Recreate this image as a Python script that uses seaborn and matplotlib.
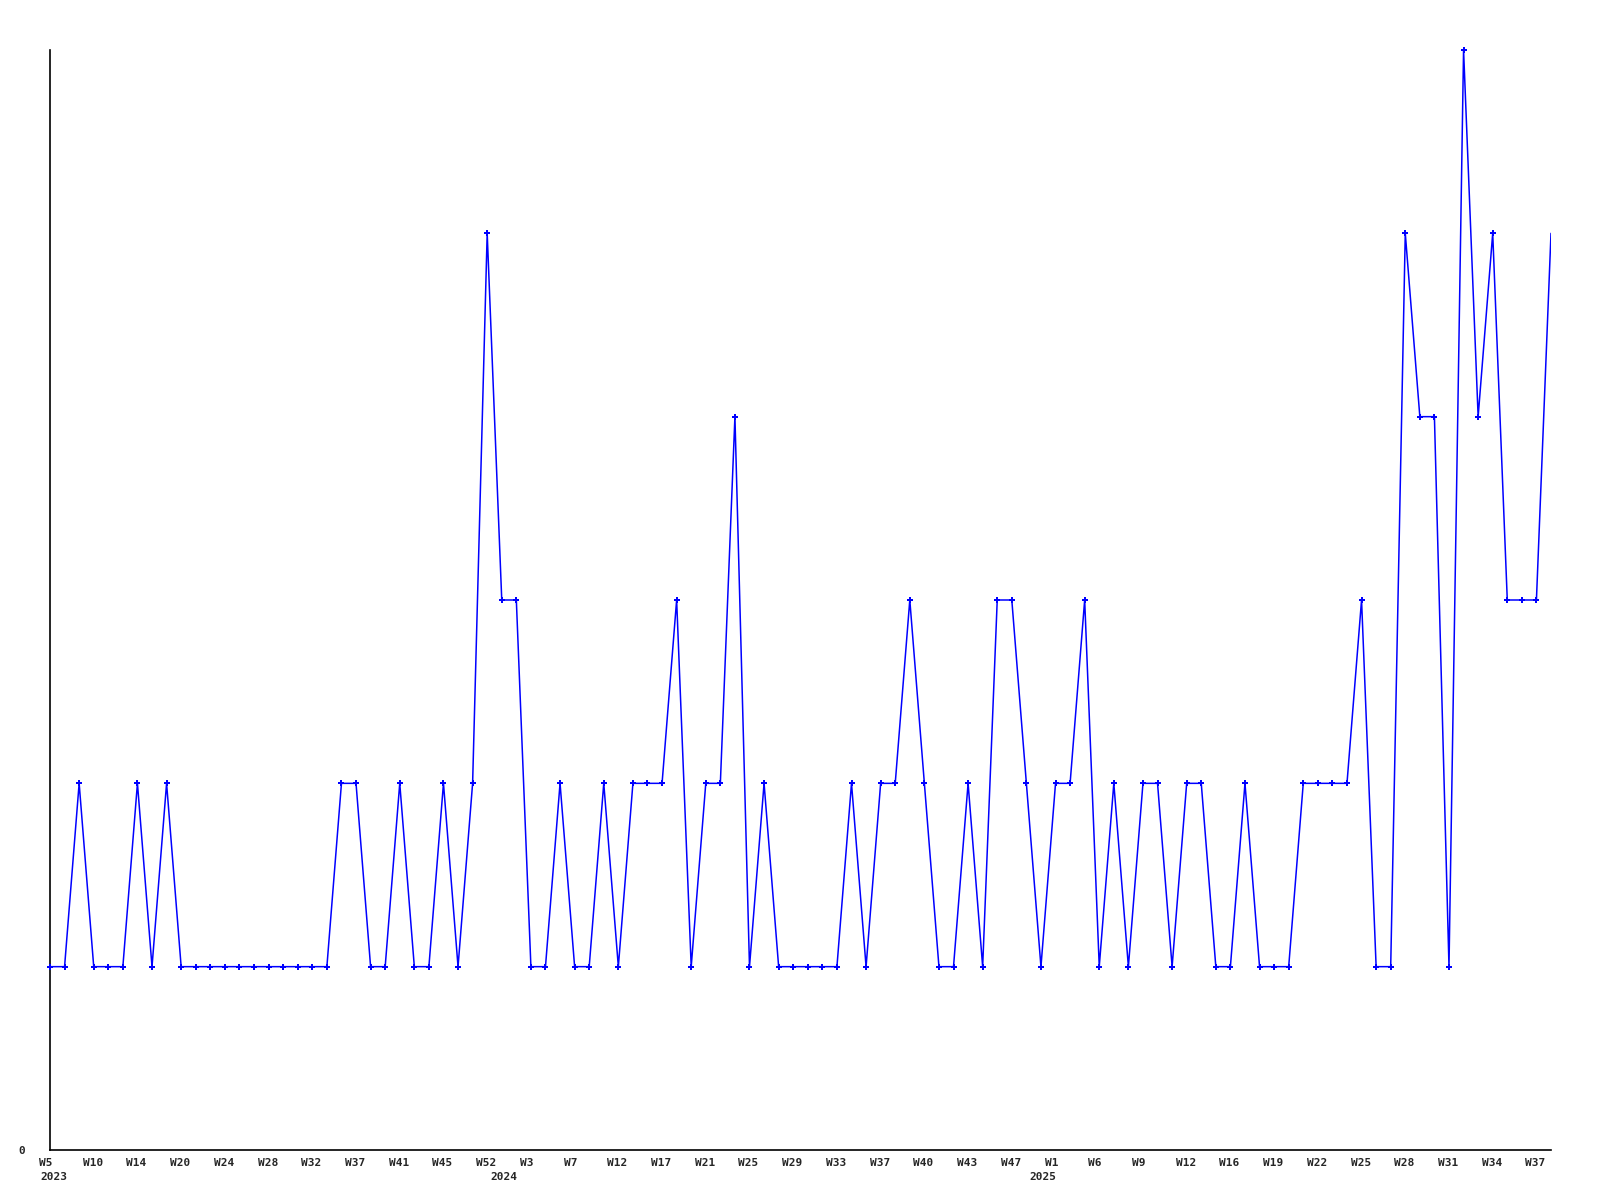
import matplotlib
matplotlib.use("Agg")
import matplotlib.pyplot as plt
import matplotlib.transforms as mtransforms
import seaborn as sns
import pandas as pd

# weekly counts, one per week
counts = [1, 1, 2, 1, 1, 1, 2, 1, 2, 1,
          1, 1, 1, 1, 1, 1, 1, 1, 1, 1,
          2, 2, 1, 1, 2, 1, 1, 2, 1, 2,
          5, 3, 3, 1, 1, 2, 1, 1, 2, 1,
          2, 2, 2, 3, 1, 2, 2, 4, 1, 2,
          1, 1, 1, 1, 1, 2, 1, 2, 2, 3,
          2, 1, 1, 2, 1, 3, 3, 2, 1, 2,
          2, 3, 1, 2, 1, 2, 2, 1, 2, 2,
          1, 1, 2, 1, 1, 1, 2, 2, 2, 2,
          3, 1, 1, 5, 4, 4, 1, 6, 4, 5,
          3, 3, 3, 5]

week_labels = ["W5", "W10", "W14", "W20", "W24", "W28", "W32", "W37", "W41", "W45", "W52",
               "W3", "W7", "W12", "W17", "W21", "W25", "W29", "W33", "W37", "W40", "W43", "W47",
               "W1", "W6", "W9", "W12", "W16", "W19", "W22", "W25", "W28", "W31", "W34", "W37"]
tick_step = 3
year_labels = ["2023", "2024", "2025"]
year_pos = [0, 31, 68]

df = pd.DataFrame({"idx": list(range(len(counts))), "count": counts})

sns.set_theme(style="white")
plt.rcParams['font.family'] = ['DejaVu Sans Mono', 'DejaVu Sans']

fig = plt.figure(figsize=(16, 12), dpi=100)
ax = fig.add_axes([50/1600, 1 - 1150/1200, (1551-50)/1600, (1150-50)/1200])

sns.lineplot(data=df, x="idx", y="count", ax=ax, color="#0000ff", linewidth=1.1,
             estimator=None)
# markers on all but the last point (the reference shows none there)
sns.scatterplot(data=df.iloc[:-1], x="idx", y="count", ax=ax, color="#0000ff",
                marker="P", s=22, linewidth=0, clip_on=False, zorder=3)

ax.set_xlim(0, len(counts) - 1)
ax.set_ylim(0, 6)
ax.set_xlabel("")
ax.set_ylabel("")

for s in ["top", "right"]:
    ax.spines[s].set_visible(False)
for s in ["left", "bottom"]:
    ax.spines[s].set_color("black")
    ax.spines[s].set_linewidth(1.2)

ax.set_yticks([0])
ax.set_yticklabels(["0"], fontsize=8, fontweight="bold")
ax.tick_params(axis="y", length=0, pad=18)

ticks = [i * tick_step for i in range(len(week_labels))]
ax.set_xticks(ticks)
ax.set_xticklabels(week_labels, fontsize=8, fontweight="bold", ha="left")
ax.tick_params(axis="x", length=0, pad=6)
offset = mtransforms.ScaledTranslation(-11/100, 0, fig.dpi_scale_trans)
for lab in ax.get_xticklabels():
    lab.set_transform(lab.get_transform() + offset)

for i, (lbl, pos) in enumerate(zip(year_labels, year_pos)):
    if i == 0:
        ax.annotate(lbl, xy=(pos, 0), xycoords=("data", "axes fraction"),
                    xytext=(-10, -27), textcoords="offset pixels",
                    ha="left", va="center", fontsize=8, fontweight="bold",
                    annotation_clip=False)
    else:
        ax.annotate(lbl, xy=(pos, 0), xycoords=("data", "axes fraction"),
                    xytext=(2, -27), textcoords="offset pixels",
                    ha="center", va="center", fontsize=8, fontweight="bold",
                    annotation_clip=False)

ax.grid(False)
fig.savefig("out.png", dpi=100, facecolor="white")
